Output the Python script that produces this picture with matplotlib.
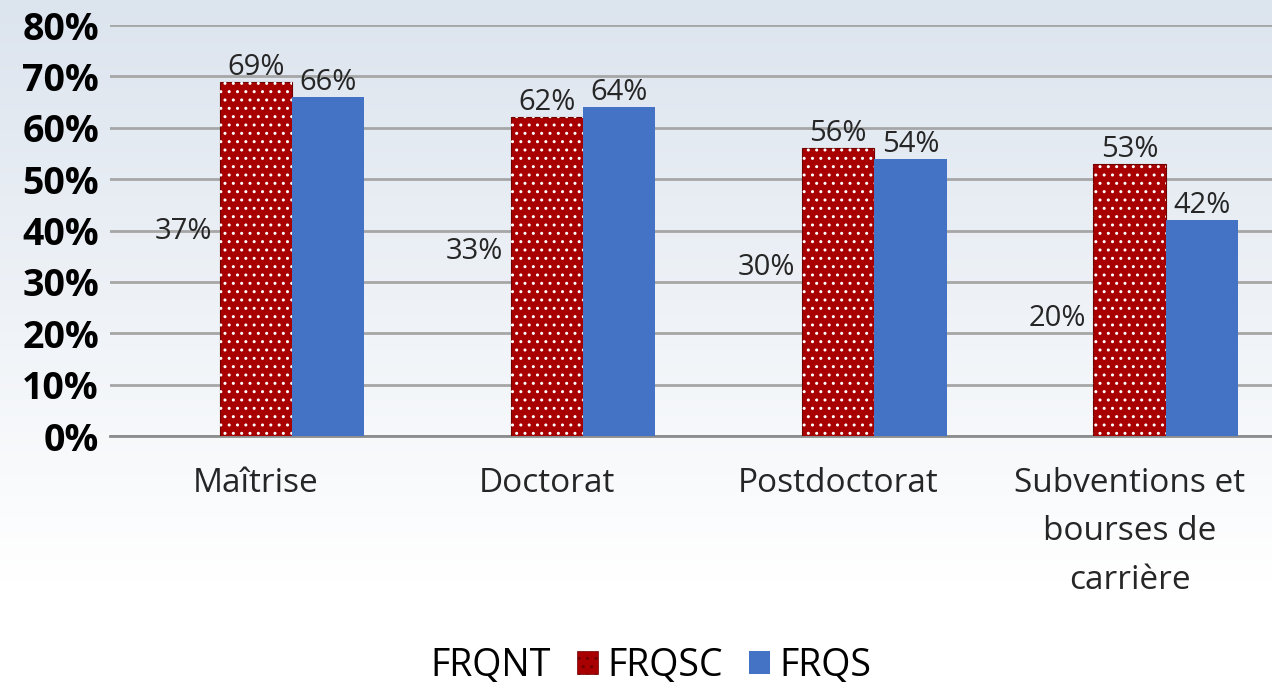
import numpy as np
import matplotlib.pyplot as plt
from matplotlib.patches import Patch

plt.rcParams['font.family'] = ['Open Sans', 'DejaVu Sans']
plt.rcParams['hatch.linewidth'] = 1.0

categories = ["Maîtrise", "Doctorat", "Postdoctorat", "Subventions et\nbourses de\ncarrière"]
series_names = ["FRQNT", "FRQSC", "FRQS"]
frqnt = [37, 33, 30, 20]
frqsc = [69, 62, 56, 53]
frqs = [66, 64, 54, 42]
y_ticks = [0, 10, 20, 30, 40, 50, 60, 70, 80]

red = "#a80000"
blue = "#4472c4"
text_col = "#262626"

fig = plt.figure(figsize=(12.72, 6.85), dpi=100)

# gradient background over the whole figure
bg = fig.add_axes([0, 0, 1, 1], zorder=-10)
grad = np.linspace(0, 1, 256).reshape(-1, 1)
top = np.array([220, 228, 238]) / 255
bottom = np.array([255, 255, 255]) / 255
t = np.clip(grad / 0.85, 0, 1)
img = top * (1 - t)[..., None] + bottom * t[..., None]
img = img.reshape(256, 1, 3)
bg.imshow(img, aspect="auto", extent=(0, 1, 0, 1))
bg.axis("off")

ax = fig.add_axes([0.0865, 0.3635, 0.916, 0.6])
ax.set_facecolor("none")

x = np.arange(len(categories))
w = 0.248

b0 = ax.bar(x - w, frqnt, w, color="none", edgecolor="none", zorder=3)
b1 = ax.bar(x, frqsc, w, color=red, edgecolor="#6e0000", linewidth=0.8, zorder=3)
# white dot pattern on top of red
ax.bar(x, frqsc, w, color="none", edgecolor="white", hatch="..", linewidth=0, zorder=4)
b2 = ax.bar(x + w, frqs, w, color=blue, edgecolor="none", zorder=3)

for bars, vals in [(b0, frqnt), (b1, frqsc), (b2, frqs)]:
    for r, v in zip(bars, vals):
        ax.annotate(f"{v}%", (r.get_x() + r.get_width() / 2, v), xytext=(0, 0),
                    textcoords="offset points", ha="center", va="bottom",
                    fontsize=21, color=text_col, zorder=5)

ax.set_xlim(-0.5, 3.5)
ax.set_ylim(0, 80)
ax.set_yticks(y_ticks)
ax.set_yticklabels([f"{v}%" for v in y_ticks], fontsize=27, fontweight="bold")
ax.set_xticks(x)
ax.set_xticklabels(categories, fontsize=24, linespacing=1.62, color=text_col)
ax.tick_params(axis="both", length=0)
ax.tick_params(axis="x", pad=22)
ax.tick_params(axis="y", pad=8)
ax.grid(axis="y", color="#a6a6a6", linewidth=2, zorder=0)
ax.set_axisbelow(True)
for s in ["left", "right", "top"]:
    ax.spines[s].set_visible(False)
ax.spines["bottom"].set_color("#8c8c8c")
ax.spines["bottom"].set_linewidth(2)

handles = [Patch(facecolor="none", edgecolor="none"),
           Patch(facecolor=red, edgecolor="#6e0000", linewidth=0.5, hatch=".."),
           Patch(facecolor=blue, edgecolor="none")]
fig.legend(handles, series_names, loc="center", bbox_to_anchor=(0.5, 0.028), ncol=3,
           frameon=False, fontsize=27, handlelength=0.55, handleheight=0.55,
           handletextpad=0.25, columnspacing=0.7)

fig.savefig("out.png", dpi=100)
